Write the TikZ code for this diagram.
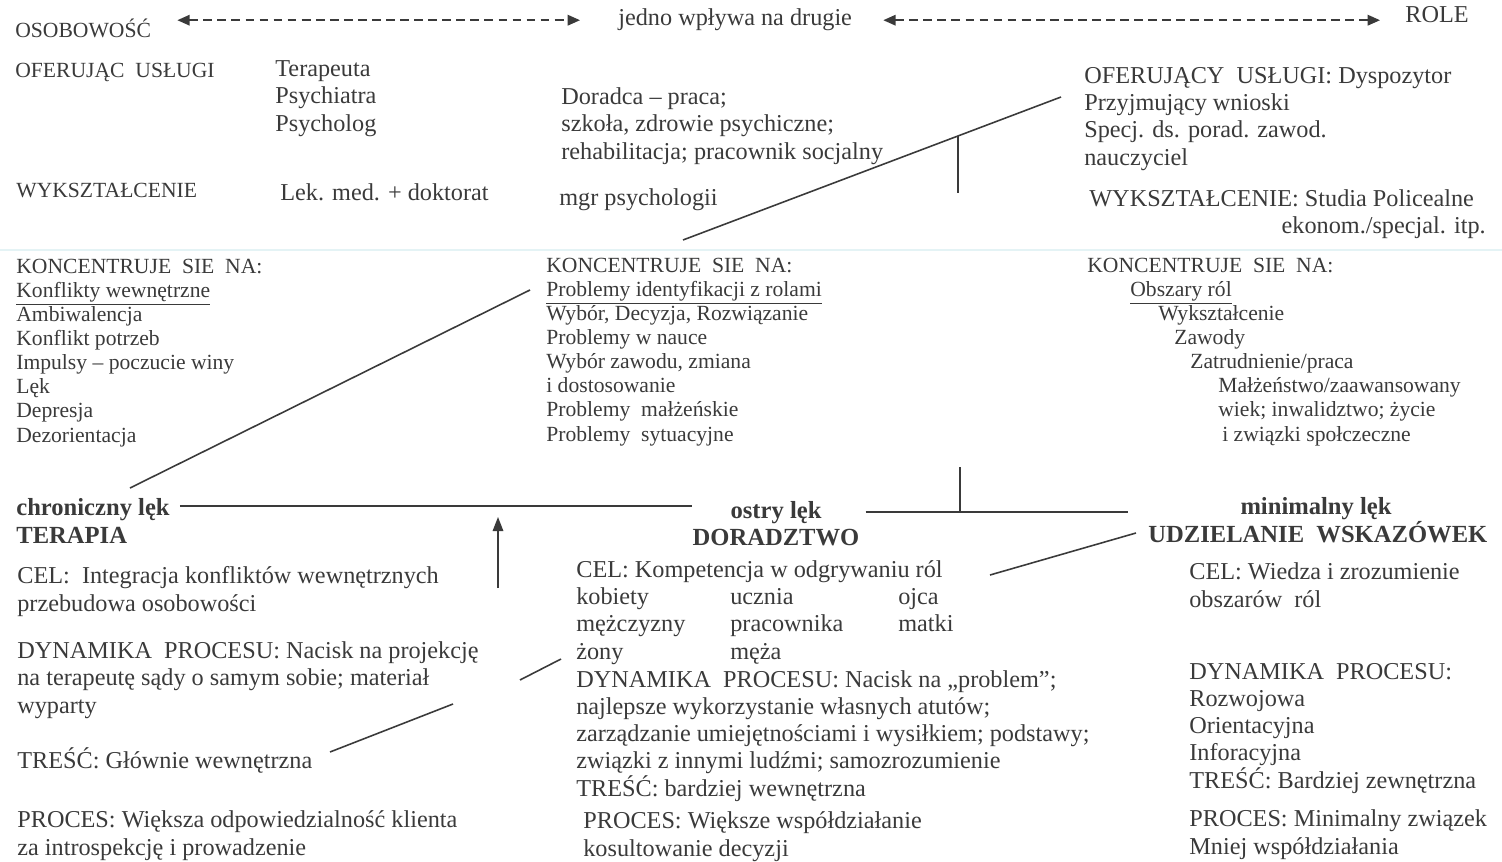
\documentclass[tikz,border=0pt]{standalone}
\usepackage{fontspec}
\setmainfont{Liberation Serif}
\usetikzlibrary{arrows.meta}
\definecolor{ink}{HTML}{3A3A3A}
\definecolor{faint}{HTML}{E4F3F5}

\begin{document}
\begin{tikzpicture}
        [
        x=0.02cm, y=-0.02cm,
        Tag/.style={anchor=base west, inner sep=0pt, text=ink, font=\fontsize{12.3}{13.7}\selectfont},
        Body/.style={anchor=base west, inner sep=0pt, text=ink, align=left, font=\fontsize{13.8}{15.4}\selectfont},
        List/.style={anchor=base west, inner sep=0pt, text=ink, align=left, font=\fontsize{12.3}{13.7}\selectfont},
        Head/.style={anchor=base, inner sep=0pt, text=ink, font=\bfseries\fontsize{14}{15.4}\selectfont},
        Link/.style={draw=ink, line width=0.9pt},
        Flow/.style={draw=ink, line width=0.9pt, dash pattern=on 5pt off 3pt, {Triangle[length=7pt,width=6pt]}-{Triangle[length=7pt,width=6pt]}},
        ]
        % blocks of several lines sit on the baseline of their last line

        \useasboundingbox (0,0) rectangle (1502,862);
        \draw[faint, line width=1pt] (0,250) -- (1502,250);

        % gorny wiersz
        \node[Tag] (osob) at (15,37) {OSOBOWOŚĆ};
        \node[Body] (wplyw) at (618,26) {jedno wpływa na drugie};
        \node[Body] (role) at (1405,23) {ROLE};
        \draw[Flow] ([xshift=0.52cm]osob.east |- wplyw.west) -- ([xshift=-0.76cm]wplyw.west);
        \draw[Flow] ([xshift=0.62cm]wplyw.east) -- ([xshift=-0.5cm]role.west |- wplyw.east);

        \node[Tag] (ofer) at (15,77) {OFERUJĄC\ \ USŁUGI};
        \node[Body] (terap) at (275,131) {Terapeuta\\Psychiatra\\Psycholog};
        \node[Body] (dorad) at (561,159) {Doradca – praca;\\szkoła, zdrowie psychiczne;\\rehabilitacja; pracownik socjalny};
        \node[Body] (dysp) at (1084,165) {OFERUJĄCY\ \ USŁUGI: Dyspozytor\\Przyjmujący wnioski\\Specj. ds. porad. zawod.\\nauczyciel};

        \node[Tag] (wyk1) at (16,197) {WYKSZTAŁCENIE};
        \node[Body] (lek) at (280,200) {Lek. med. + doktorat};
        \node[Body] (mgr) at (559,205) {mgr psychologii};
        \node[Body] (wyk2) at (1089,206) {WYKSZTAŁCENIE: Studia Policealne};
        \node[Body, anchor=base east] (wyk3) at (1486,233) {ekonom./specjal. itp.};

        \coordinate (d1a) at (683,240);
        \coordinate (d1b) at (1061,97);
        \coordinate (v1a) at (958,136);
        \coordinate (v1b) at (958,193);
        \draw[Link] (d1a) -- (d1b);
        \draw[Link] (v1a) -- (v1b);

        % koncentruje sie na
        \node[List] (konc1) at (16,442) {KONCENTRUJE\ \ SIE\ \ NA:\\\underline{Konflikty wewnętrzne}\\Ambiwalencja\\Konflikt potrzeb\\Impulsy – poczucie winy\\Lęk\\Depresja\\Dezorientacja};
        \node[List] (konc2) at (546,441) {KONCENTRUJE\ \ SIE\ \ NA:\\\underline{Problemy identyfikacji z rolami}\\Wybór, Decyzja, Rozwiązanie\\Problemy w nauce\\Wybór zawodu, zmiana\\i dostosowanie\\Problemy\ \ małżeńskie\\Problemy\ \ sytuacyjne};
        \node[List] (konc3) at (1087,441) {KONCENTRUJE\ \ SIE\ \ NA:\\\hspace*{0.86cm}\underline{Obszary ról}\\\hspace*{1.42cm}Wykształcenie\\\hspace*{1.74cm}Zawody\\\hspace*{2.06cm}Zatrudnienie/praca\\\hspace*{2.62cm}Małżeństwo/zaawansowany\\\hspace*{2.62cm}wiek; inwalidztwo; życie\\\hspace*{2.7cm}i związki społczeczne};

        \coordinate (d2a) at (130,488);
        \coordinate (d2b) at (530,290);
        \draw[Link] (d2a) -- (d2b);

        % trzy rodzaje pomocy
        \node[Head, anchor=base west] (chron) at (16,515) {chroniczny lęk};
        \node[Head, anchor=base west] (terapia) at (16,543) {TERAPIA};
        \node[Head] (ostry) at (776,518) {ostry lęk};
        \node[Head] (doradz) at (776,545) {DORADZTWO};
        \node[Head] (minim) at (1316,514) {minimalny lęk};
        \node[Head, anchor=base west] (udziel) at (1148,542) {UDZIELANIE\ \ WSKAZÓWEK};

        \draw[Link] ([xshift=0.2cm, yshift=0.06cm]chron.east) -- ([yshift=0.06cm]doradz.west |- chron.east);
        \draw[Link] ([xshift=0.12cm]doradz.east |- ostry.east) -- ([xshift=-0.4cm]udziel.west |- ostry.east);
        \coordinate (v2) at (960,467);
        \draw[Link] (v2) -- (v2 |- ostry.east);
        \coordinate (up1) at (498,588);
        \draw[Link, -{Triangle[length=8pt,width=6pt]}] (up1) -- (498,517);
        \coordinate (d3a) at (990,575);
        \coordinate (d3b) at (1136,533);
        \draw[Link] (d3a) -- (d3b);

        % terapia
        \node[Body] (cel1) at (17,611) {CEL:\ \ Integracja konfliktów wewnętrznych\\przebudowa osobowości};
        \node[Body] (dyn1) at (17,713) {DYNAMIKA\ \ PROCESU: Nacisk na projekcję\\na terapeutę sądy o samym sobie; materiał\\wyparty};
        \node[Body] (tresc1) at (17,768) {TREŚĆ: Głównie wewnętrzna};
        \node[Body] (proc1) at (17,855) {PROCES: Większa odpowiedzialność klienta\\za introspekcję i prowadzenie};
        \coordinate (d4a) at (520,680);
        \coordinate (d4b) at (561,659);
        \coordinate (d5a) at (330,752);
        \coordinate (d5b) at (453,704);
        \draw[Link] (d4a) -- (d4b);
        \draw[Link] (d5a) -- (d5b);

        % doradztwo
        \node[Body] (cel2) at (576,659) {CEL: Kompetencja w odgrywaniu ról\\\makebox[3.08cm][l]{kobiety}\makebox[3.36cm][l]{ucznia}ojca\\\makebox[3.08cm][l]{mężczyzny}\makebox[3.36cm][l]{pracownika}matki\\\makebox[3.08cm][l]{żony}męża};
        \node[Body] (dyn2) at (576,796) {DYNAMIKA\ \ PROCESU: Nacisk na „problem”;\\najlepsze wykorzystanie własnych atutów;\\zarządzanie umiejętnościami i wysiłkiem; podstawy;\\związki z innymi ludźmi; samozrozumienie\\TREŚĆ: bardziej wewnętrzna};
        \node[Body] (proc2) at (583,856) {PROCES: Większe współdziałanie\\kosultowanie decyzji};

        % udzielanie wskazowek
        \node[Body] (cel3) at (1189,607) {CEL: Wiedza i zrozumienie\\obszarów\ \ ról};
        \node[Body] (dyn3) at (1189,788) {DYNAMIKA\ \ PROCESU:\\Rozwojowa\\Orientacyjna\\Inforacyjna\\TREŚĆ: Bardziej zewnętrzna};
        \node[Body] (proc3) at (1189,854) {PROCES: Minimalny związek\\Mniej współdziałania};

    \end{tikzpicture}
\end{document}
